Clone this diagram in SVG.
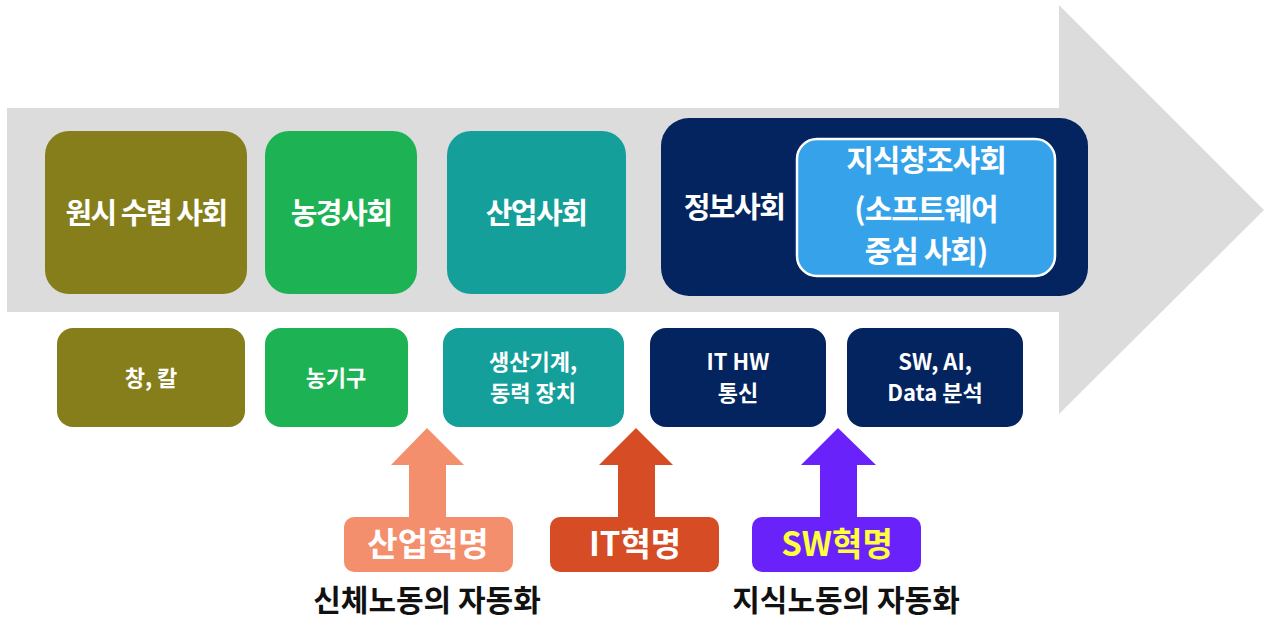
<svg xmlns="http://www.w3.org/2000/svg" width="1267" height="620" viewBox="0 0 1267 620">
<style>
text{font-family:"Noto Sans CJK KR","Liberation Sans",sans-serif;font-weight:700;text-anchor:middle;}
.w{fill:#ffffff;}
.t1{font-size:29px;letter-spacing:-1.5px;}
.t1b{font-size:30px;letter-spacing:-1px;}
.t2{font-size:22px;}
.t3{font-size:33px;}
.t4{font-size:30px;fill:#111111;}
</style>
<rect width="1267" height="620" fill="#ffffff"/>
<g id="timeline-arrow">
<polygon points="7,108 1059,108 1059,5 1264,210 1059,414 1059,312 7,312" fill="#dcdcdc"/>
</g>
<g id="connectors">
<polygon points="427,428 464,465 446,465 446,518 409,518 409,465 391,465" fill="#f48f6e"/>
<polygon points="636,428 673,465 655,465 655,518 618,518 618,465 599,465" fill="#d64c25"/>
<polygon points="838,428 876,465 857,465 857,518 820,518 820,465 801,465" fill="#6a22fa"/>
</g>
<g id="n-primitive"><rect x="45" y="131" width="202" height="163" rx="24" fill="#857e1a"/><text class="w t1" x="146" y="224">원시 수렵 사회</text></g>
<g id="n-agri"><rect x="265" y="131" width="152" height="163" rx="24" fill="#1db354"/><text class="w t1" x="341" y="224">농경사회</text></g>
<g id="n-industry"><rect x="447" y="131" width="179" height="163" rx="24" fill="#159f9b"/><text class="w t1" x="536" y="224">산업사회</text></g>
<g id="n-info"><rect x="661" y="118" width="427" height="178" rx="28" fill="#03245f"/><text class="w t1" x="734" y="218">정보사회</text></g>
<g id="n-knowledge"><rect x="797" y="139" width="258" height="137" rx="20" fill="#36a2ea" stroke="#ffffff" stroke-width="2.5"/>
<text class="w t1b" x="926" y="171">지식창조사회</text>
<text class="w t1b" x="926" y="220">(소프트웨어</text>
<text class="w t1b" x="926" y="262">중심 사회)</text></g>
<g id="n-spear"><rect x="57" y="328" width="188" height="99" rx="16" fill="#857e1a"/><text class="w t2" x="151" y="386">창, 칼</text></g>
<g id="n-tools"><rect x="265" y="328" width="143" height="99" rx="16" fill="#1db354"/><text class="w t2" x="336" y="386">농기구</text></g>
<g id="n-machine"><rect x="443" y="328" width="181" height="99" rx="16" fill="#159f9b"/><text class="w t2" x="533" y="370">생산기계,</text><text class="w t2" x="533" y="401">동력 장치</text></g>
<g id="n-ithw"><rect x="650" y="328" width="176" height="99" rx="16" fill="#03245f"/><text class="w t2" x="738" y="370">IT HW</text><text class="w t2" x="738" y="401">통신</text></g>
<g id="n-sw"><rect x="847" y="328" width="176" height="99" rx="16" fill="#03245f"/><text class="w t2" x="935" y="370">SW, AI,</text><text class="w t2" x="935" y="401">Data 분석</text></g>
<g id="n-rev-industry"><rect x="344" y="517" width="169" height="55" rx="10" fill="#f48f6e"/><text class="w t3" x="428" y="556">산업혁명</text></g>
<g id="n-rev-it"><rect x="550" y="517" width="169" height="55" rx="10" fill="#d64c25"/><text class="w t3" x="635" y="556">IT혁명</text></g>
<g id="n-rev-sw"><rect x="752" y="517" width="169" height="55" rx="10" fill="#6a22fa"/><text class="t3" x="837" y="556" fill="#ffff3c">SW혁명</text></g>
<g id="n-label-body"><text class="t4" x="427" y="611">신체노동의 자동화</text></g>
<g id="n-label-know"><text class="t4" x="846" y="611">지식노동의 자동화</text></g>
</svg>
